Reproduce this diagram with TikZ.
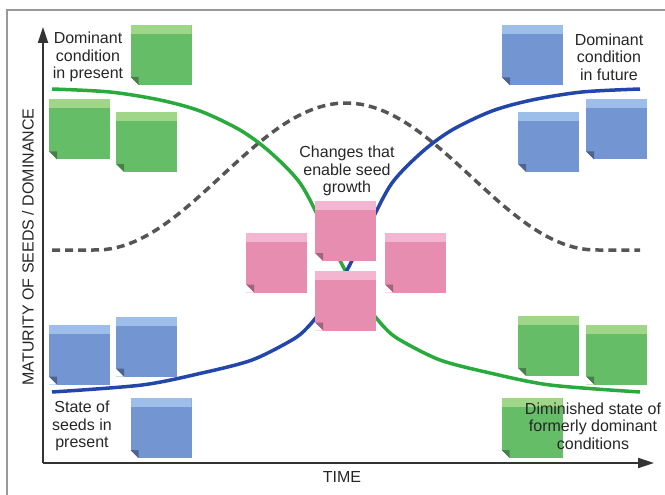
\documentclass[tikz,border=0pt]{standalone}
\usepackage{fontspec}
\setmainfont{Liberation Sans}
\usetikzlibrary{arrows.meta}

\definecolor{notegreen}{RGB}{102,189,104}
\definecolor{notegreenlt}{RGB}{160,214,135}
\definecolor{notegreendk}{RGB}{72,128,74}
\definecolor{noteblue}{RGB}{115,150,210}
\definecolor{notebluelt}{RGB}{157,190,232}
\definecolor{notebluedk}{RGB}{78,100,140}
\definecolor{notepink}{RGB}{230,141,176}
\definecolor{notepinklt}{RGB}{243,181,208}
\definecolor{notepinkdk}{RGB}{160,100,125}
\definecolor{curvegreen}{RGB}{40,170,60}
\definecolor{curveblue}{RGB}{35,70,170}
\definecolor{dashgray}{RGB}{85,85,85}

\tikzset{
    note/.style n args={3}{
        minimum width=61pt, minimum height=60pt, inner sep=0pt, fill=#1,
        path picture={
            \fill[#2] (path picture bounding box.north west)
                rectangle ([yshift=-9pt]path picture bounding box.north east);
            \fill[white] ([yshift=8pt]path picture bounding box.south west)
                -- (path picture bounding box.south west)
                -- ([xshift=8pt]path picture bounding box.south west) -- cycle;
            \fill[#3] ([yshift=8pt]path picture bounding box.south west)
                -- ([xshift=8pt,yshift=8pt]path picture bounding box.south west)
                -- ([xshift=8pt]path picture bounding box.south west) -- cycle;
        }
    },
    greennote/.style={note={notegreen}{notegreenlt}{notegreendk}},
    bluenote/.style={note={noteblue}{notebluelt}{notebluedk}},
    pinknote/.style={note={notepink}{notepinklt}{notepinkdk}}
}

\begin{document}
\begin{tikzpicture}[x=1pt, y=-1pt,
    lbl/.style={font=\fontsize{16}{17.5}\selectfont, text=black!85, align=center, inner sep=0pt},
    axis/.style={line width=1.8pt, black!80, -{Triangle[length=16pt,width=10pt]}},
    trend/.style={line width=3.5pt}]
\useasboundingbox (0,0) rectangle (665,495);

% frame
\draw[black!40, line width=1.5pt] (7,495) -- (7,10) -- (665,10);

% axes
\coordinate (origin) at (43,463);
\coordinate (ytop) at (43,27);
\coordinate (xend) at (654,463);
\draw[axis] (origin) -- (ytop);
\draw[axis] (origin) -- (xend);
\node[lbl] (timelbl) at (342,477) {TIME};
\node[lbl, rotate=90] (ylbl) at (28,247) {MATURITY OF SEEDS / DOMINANCE};

% curves
\draw[dashgray, line width=3.5pt, dash pattern=on 8pt off 5pt]
    plot[domain=52:640, samples=100]
    (\x, {250-147*(1+cos(180*max(-1,min(1,(\x-346)/250))))/2});
\draw[trend, curvegreen] plot[smooth] coordinates {(52,89) (110,92) (160,100) (200,111)
    (240,130) (270,152) (300,183) (322,224) (346,272) (368,307) (385,328) (400,340)
    (440,360) (490,373) (550,385) (640,392)};
\draw[trend, curveblue] plot[smooth] coordinates {(52,392) (142,385) (202,373) (252,360)
    (292,340) (307,328) (324,307) (346,272) (370,224) (392,183) (422,152) (452,130)
    (492,111) (532,100) (582,92) (640,89)};

% notes
\node[greennote] (g1) at (161,55) {};
\node[greennote] (g2) at (79.5,129.5) {};
\node[greennote] (g3) at (146.5,142) {};
\node[greennote] (g4) at (548.5,346) {};
\node[greennote] (g5) at (616.5,354.5) {};
\node[greennote] (g6) at (532,428) {};
\node[bluenote] (b1) at (532.5,55.5) {};
\node[bluenote] (b2) at (548.5,142) {};
\node[bluenote] (b3) at (616.5,129.5) {};
\node[bluenote] (b4) at (79.5,354.5) {};
\node[bluenote] (b5) at (146.5,346.5) {};
\node[bluenote] (b6) at (161,428) {};
\node[pinknote] (p1) at (345.5,231) {};
\node[pinknote] (p2) at (276.5,262.5) {};
\node[pinknote] (p3) at (415.5,262.5) {};
\node[pinknote] (p4) at (345.5,300.5) {};

% labels
\node[lbl] (presentlbl) at (88,57) {Dominant\\condition\\in present};
\node[lbl] (futurelbl) at (609,57) {Dominant\\condition\\in future};
\node[lbl] (changeslbl) at (347,171) {Changes that\\enable seed\\growth};
\node[lbl] (seedslbl) at (82,426) {State of\\seeds in\\present};
\node[lbl] (diminishedlbl) at (593,426) {Diminished state of\\formerly dominant\\conditions};
\end{tikzpicture}
\end{document}
